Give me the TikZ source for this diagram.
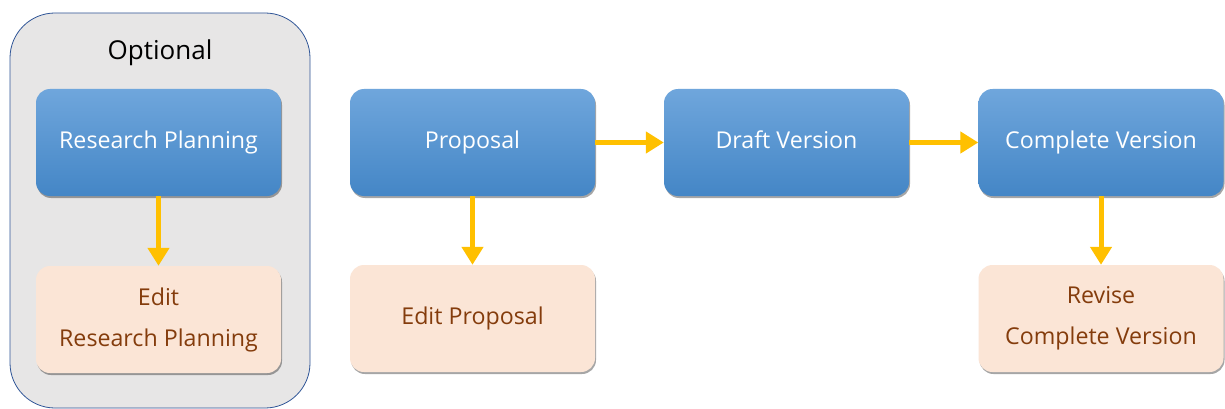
\documentclass[tikz,border=0pt]{standalone}
\usepackage{fontspec}
\setmainfont{Open Sans}
\usetikzlibrary{shadows,arrows.meta}
\definecolor{bluetop}{HTML}{6FA6DC}
\definecolor{bluebot}{HTML}{4486C6}
\definecolor{peach}{HTML}{FBE5D6}
\definecolor{brown}{HTML}{843C0C}
\definecolor{arrowc}{HTML}{FFC000}
\definecolor{optfill}{HTML}{E7E6E6}
\definecolor{optline}{HTML}{2F5597}
\tikzset{
  x=1pt,y=-1pt,
  bluebox/.style={rounded corners=14pt,minimum width=245pt,minimum height=107pt,
    top color=bluetop,bottom color=bluebot,draw=none,text=white,
    font=\fontsize{23.2}{41}\selectfont,align=center,
    drop shadow={shadow xshift=1pt,shadow yshift=-2pt,fill=black,opacity=0.35}},
  peachbox/.style={rounded corners=14pt,minimum width=245pt,minimum height=107pt,
    fill=peach,draw=none,text=brown,
    font=\fontsize{23.2}{41}\selectfont,align=center,
    drop shadow={shadow xshift=1pt,shadow yshift=-2pt,fill=black,opacity=0.35}},
  flow/.style={draw=arrowc,line width=5pt,-{Triangle[width=21pt,length=18pt]}},
}
\begin{document}
\begin{tikzpicture}
\useasboundingbox (0,0) rectangle (1225,409);
\fill[white] (0,0) rectangle (1225,409);
\draw[fill=optfill,draw=optline,line width=0.8pt,rounded corners=45pt] (10,13) rectangle (310,408);
\node[font=\fontsize{26}{30}\selectfont] (opt) at (160,53) {Optional};
\node[bluebox] (rp) at (158.5,142.5) {Research Planning};
\node[peachbox] (erp) at (158.5,319.5) {Edit\\Research Planning};
\node[bluebox] (prop) at (472.5,142.5) {Proposal};
\node[peachbox] (eprop) at (472.5,318.5) {Edit Proposal};
\node[bluebox] (draft) at (786.5,142.5) {Draft Version\vphantom{p}};
\node[bluebox] (comp) at (1101,142.5) {Complete Version};
\node[peachbox] (rev) at (1101,318.5) {Revise\\Complete Version};
\draw[flow] (rp) -- (erp);
\draw[flow] (prop) -- (eprop);
\draw[flow] (comp) -- (rev);
\draw[flow] (prop) -- (draft);
\draw[flow] (draft) -- (comp);
\end{tikzpicture}
\end{document}
